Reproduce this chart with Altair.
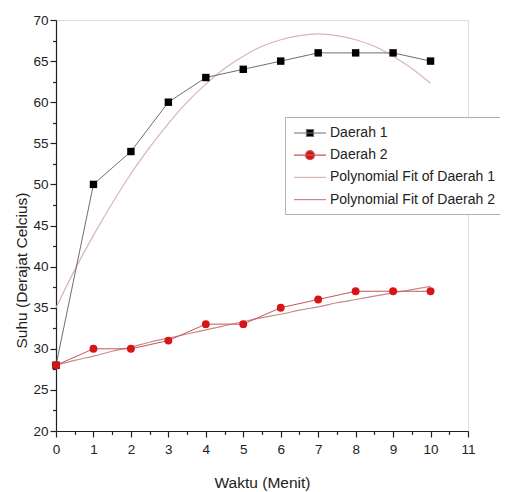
import altair as alt
import pandas as pd

# ---- data ----
waktu = [0, 1, 2, 3, 4, 5, 6, 7, 8, 9, 10]
daerah_1 = [28, 50, 54, 60, 63, 64, 65, 66, 66, 66, 65]
daerah_2 = [28, 30, 30, 31, 33, 33, 35, 36, 37, 37, 37]

fit_waktu = [0, 0.5, 1, 1.5, 2, 2.5, 3, 3.5, 4, 4.5, 5, 5.5, 6, 6.5, 7, 7.5, 8, 8.5, 9, 9.5, 10]
fit_daerah_1 = [35.0, 39.6, 43.8, 47.7, 51.3, 54.5, 57.4, 60.0, 62.2, 64.1, 65.6,
                66.8, 67.6, 68.1, 68.3, 68.1, 67.6, 66.8, 65.6, 64.1, 62.3]
fit_daerah_2 = [28.0, 28.6, 29.1, 29.7, 30.2, 30.8, 31.3, 31.8, 32.3, 32.8, 33.3,
                33.8, 34.2, 34.7, 35.1, 35.6, 36.0, 36.4, 36.8, 37.2, 37.6]

series_names = ["Daerah 1", "Daerah 2", "Polynomial Fit of Daerah 1", "Polynomial Fit of Daerah 2"]

x_major = [0, 1, 2, 3, 4, 5, 6, 7, 8, 9, 10, 11]
x_minor = [0.5, 1.5, 2.5, 3.5, 4.5, 5.5, 6.5, 7.5, 8.5, 9.5, 10.5]
y_major = [20, 25, 30, 35, 40, 45, 50, 55, 60, 65, 70]
y_minor = [22.5, 27.5, 32.5, 37.5, 42.5, 47.5, 52.5, 57.5, 62.5, 67.5]

# ---- styles ----
FONT = "Liberation Sans"
INK = "#222222"
c_line1 = "#6e6e6e"
c_pt1 = "#000000"
c_line2 = "#c45656"
c_pt2 = "#d71515"
c_fit1 = "#d9b5b0"
c_fit2 = "#c98a8a"

legend_fill = [c_pt1, c_pt2, "transparent", "transparent"]
legend_stroke = [c_line1, c_line2, c_fit1, c_fit2]
legend_paths = [
    "M-2,0H2M-0.44,-0.44H0.44V0.44H-0.44Z",
    "M-2,0H2M-0.56,0A0.56,0.56,0,1,1,0.56,0A0.56,0.56,0,1,1,-0.56,0Z",
    "M-2,0H2",
    "M-2,0H2",
]

d1 = pd.DataFrame({"waktu": waktu, "suhu": daerah_1})
d2 = pd.DataFrame({"waktu": waktu, "suhu": daerah_2})
f1 = pd.DataFrame({"waktu": fit_waktu, "suhu": fit_daerah_1})
f2 = pd.DataFrame({"waktu": fit_waktu, "suhu": fit_daerah_2})
leg_df = pd.DataFrame({"waktu": waktu, "suhu": daerah_1, "series": [series_names[0]] * len(waktu)})

xscale = alt.Scale(domain=[0, 11], nice=False, zero=False)
yscale = alt.Scale(domain=[20, 70], nice=False, zero=False)

x_axis = alt.Axis(
    values=x_major, title="Waktu (Menit)", orient="bottom", grid=False,
    tickSize=6, tickColor=INK, domainColor=INK, domainWidth=1.2, tickWidth=1.2,
    labelFont=FONT, labelFontSize=13.5, labelColor=INK, labelPadding=5, labelFlush=False,
    titleFont=FONT, titleFontSize=15.5, titleFontWeight="normal", titleColor=INK,
    titleY=56, titleBaseline="alphabetic",
)
y_axis = alt.Axis(
    values=y_major, title="Suhu (Derajat Celcius)", orient="left", grid=False,
    tickSize=6, tickColor=INK, domainColor=INK, domainWidth=1.2, tickWidth=1.2,
    labelFont=FONT, labelFontSize=13.5, labelColor=INK, labelPadding=2, labelFlush=False,
    titleFont=FONT, titleFontSize=15.5, titleFontWeight="normal", titleColor=INK,
    titleAngle=270, titleX=-30, titleY=250, titleBaseline="alphabetic", titleAlign="center",
)
x_minor_axis = alt.Axis(values=x_minor, orient="bottom", labels=False, domain=False, grid=False,
                        tickSize=3.5, tickColor=INK, tickWidth=1.2, title=None)
y_minor_axis = alt.Axis(values=y_minor, orient="left", labels=False, domain=False, grid=False,
                        tickSize=3.5, tickColor=INK, tickWidth=1.2, title=None)

X = alt.X("waktu:Q", scale=xscale, axis=x_axis)
Y = alt.Y("suhu:Q", scale=yscale, axis=y_axis)

fit1_line = alt.Chart(f1).mark_line(color=c_fit1, strokeWidth=1.2, interpolate="monotone").encode(x=X, y=Y)
fit2_line = alt.Chart(f2).mark_line(color=c_fit2, strokeWidth=1.2, interpolate="monotone").encode(x=X, y=Y)
line1 = alt.Chart(d1).mark_line(color=c_line1, strokeWidth=1).encode(x=X, y=Y)
line2 = alt.Chart(d2).mark_line(color=c_line2, strokeWidth=1).encode(x=X, y=Y)
pts1 = alt.Chart(d1).mark_point(shape="square", filled=True, size=55, color=c_pt1, opacity=1).encode(x=X, y=Y)
pts2 = alt.Chart(d2).mark_point(shape="circle", filled=True, size=62, color=c_pt2, opacity=1).encode(x=X, y=Y)

leg = alt.Legend(
    title=None, orient="none", legendX=229, legendY=97,
    symbolSize=256, symbolStrokeWidth=1.2, symbolOffset=9,
    labelFont=FONT, labelFontSize=14, labelColor=INK, labelLimit=400, labelOffset=11,
    padding=7, rowPadding=6.2, strokeColor="#b0b0b0", fillColor="white",
)
legend_layer = alt.Chart(leg_df).transform_filter("datum.waktu < 0").mark_point(
    filled=True, opacity=1, size=256, strokeWidth=1.2
).encode(
    x=X, y=Y,
    fill=alt.Fill("series:N", scale=alt.Scale(domain=series_names, range=legend_fill), legend=leg),
    stroke=alt.Stroke("series:N", scale=alt.Scale(domain=series_names, range=legend_stroke), legend=leg),
    shape=alt.Shape("series:N", scale=alt.Scale(domain=series_names, range=legend_paths), legend=leg),
)

main = alt.layer(fit1_line, fit2_line, line1, line2, pts1, pts2, legend_layer)

minor = alt.Chart(d1).mark_point(opacity=0).encode(
    x=alt.X("waktu:Q", scale=xscale, axis=x_minor_axis),
    y=alt.Y("suhu:Q", scale=yscale, axis=y_minor_axis),
)

chart = alt.layer(main, minor).resolve_axis(x="independent", y="independent").properties(
    width=412, height=411,
    autosize=alt.AutoSizeParams(type="none"),
    padding={"left": 48, "top": 12, "right": 32, "bottom": 61},
).configure_view(strokeWidth=0).configure(background="white")

chart.save("out.html", embed_options={"renderer": "svg", "actions": False})
